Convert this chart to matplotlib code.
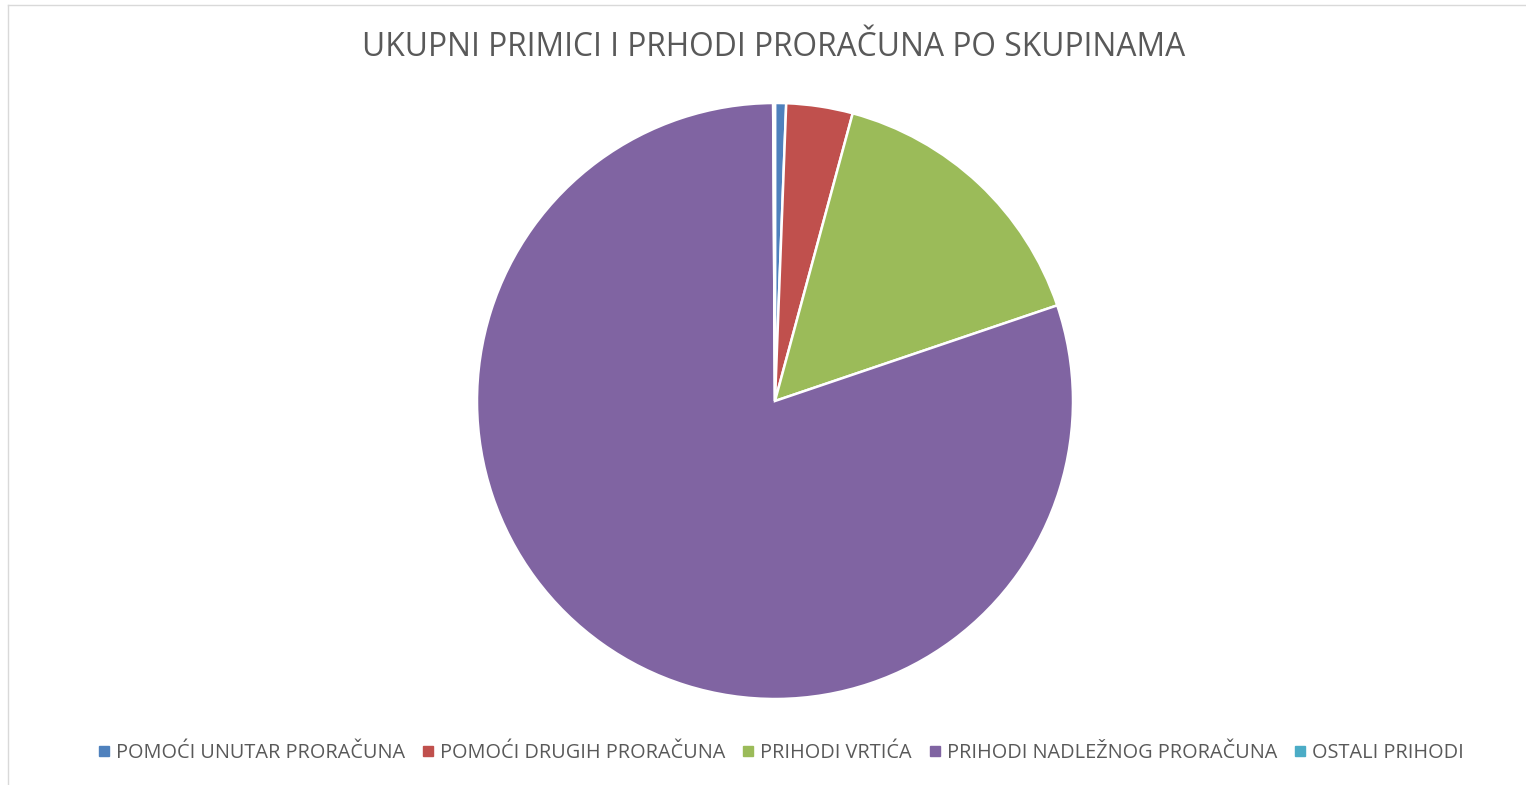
import matplotlib
matplotlib.use("Agg")
import matplotlib.pyplot as plt
from matplotlib.lines import Line2D

labels = ["POMOĆI UNUTAR PRORAČUNA", "POMOĆI DRUGIH PRORAČUNA", "PRIHODI VRTIĆA",
          "PRIHODI NADLEŽNOG PRORAČUNA", "OSTALI PRIHODI"]
values = [0.6, 3.6, 15.6, 80.1, 0.1]
colors = ["#4F81BD", "#C0504D", "#9BBB59", "#8064A2", "#4BACC6"]

plt.rcParams['font.family'] = ['Open Sans', 'DejaVu Sans']

W, H = 1526, 785
fig = plt.figure(figsize=(W / 100, H / 100), dpi=100)

# pie centred at (775, 401), radius 298 px
cx, cy, r = 775, 401, 298
ax = fig.add_axes([(cx - r) / W, (H - cy - r) / H, 2 * r / W, 2 * r / H])
ax.pie(values, colors=colors, startangle=90, counterclock=False, radius=1,
       wedgeprops=dict(edgecolor="white", linewidth=1.8))
ax.set_xlim(-1, 1)
ax.set_ylim(-1, 1)
ax.set_aspect("auto")
ax.axis("off")

fig.text(774 / W, 1 - 47 / H, "UKUPNI PRIMICI I PRHODI PRORAČUNA PO SKUPINAMA",
         ha="center", va="center", fontsize=22.9, color="#595959")

handles = [Line2D([], [], marker="s", linestyle="none", markersize=6.5,
                  markerfacecolor=c, markeredgecolor=c) for c in colors]
fig.legend(handles, labels, loc="center", bbox_to_anchor=(781 / W, 1 - 753 / H),
           ncol=5, frameon=False, fontsize=14.3, labelcolor="#595959",
           handlelength=0.6, handletextpad=0.3, columnspacing=0.85)

# chart area frame (top and left edges visible)
fig.add_artist(Line2D([8 / W, 1], [1 - 5 / H, 1 - 5 / H], color="#D9D9D9", lw=1))
fig.add_artist(Line2D([8 / W, 8 / W], [0, 1 - 5 / H], color="#D9D9D9", lw=1))

fig.savefig("out.png", dpi=100, facecolor="white")
